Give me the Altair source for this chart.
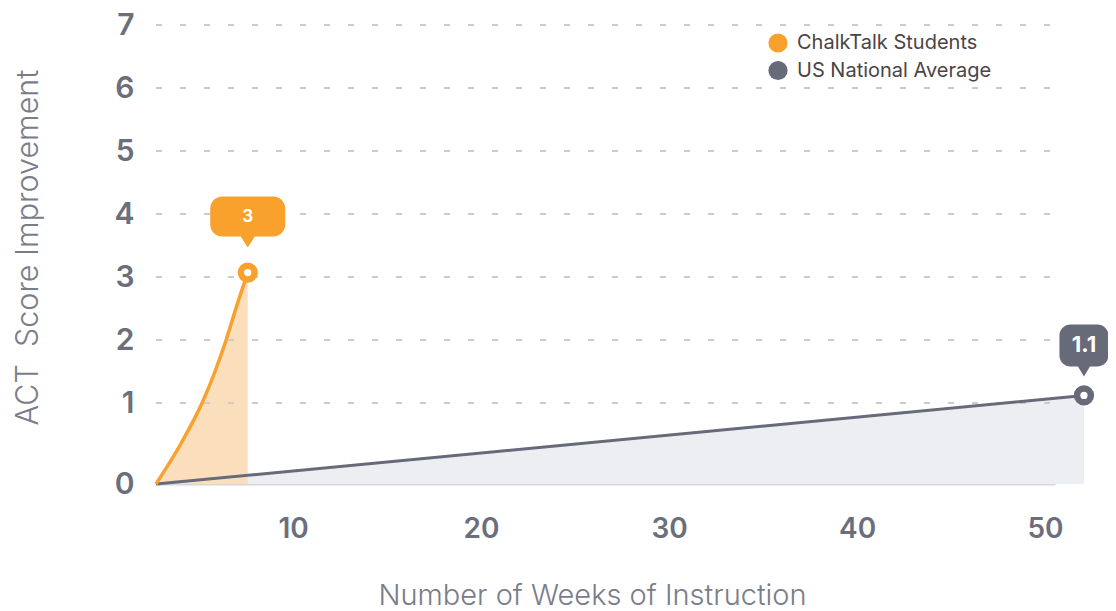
import altair as alt
import pandas as pd

# ---------------- data ----------------
series = ["ChalkTalk Students", "US National Average"]
colors = ["#F8A12C", "#666A79"]
tints = ["#FBDFBC", "#EDEEF1"]

chalk_weeks = [2.71, 4.04, 5.16, 5.85, 6.44, 6.97, 7.59]
chalk_score = [0.0, 0.50, 1.00, 1.50, 2.00, 2.51, 3.07]

us_weeks = [2.71, 52.07]
us_score = [0.0, 1.12]

callout_labels = ["3", "1.1"]

y_ticks = [0, 1, 2, 3, 4, 5, 6, 7]
x_ticks = [10, 20, 30, 40, 50]

# ---------------- frames ----------------
chalk_df = pd.DataFrame({"weeks": chalk_weeks, "score": chalk_score, "series": series[0]})
us_df = pd.DataFrame({"weeks": us_weeks, "score": us_score, "series": series[1]})
frames = [chalk_df, us_df]
peaks_df = pd.DataFrame({
    "series": series,
    "weeks": [chalk_weeks[-1], us_weeks[-1]],
    "score": [chalk_score[-1], us_score[-1]],
    "label": callout_labels,
})
grid_df = pd.DataFrame({"score": y_ticks[1:]})

W, H = 899, 459
FONT = "Inter"

x_scale = alt.Scale(domain=[2.71, 50.53], nice=False, zero=False)
y_scale = alt.Scale(domain=[0, 1, 7], range=[H, H - 81, 0], nice=False, zero=False)

x_enc = alt.X("weeks:Q", scale=x_scale, axis=alt.Axis(
    values=x_ticks, format="d", title="Number of Weeks of Instruction", grid=False,
    ticks=False, tickSize=0, domain=True, domainColor="#D6D7DB", domainWidth=2,
    labelFont=FONT, labelFontSize=28, labelFontWeight=600, labelColor="#6B6E7B",
    labelPadding=31, labelBaseline="top",
    titleFont=FONT, titleFontSize=29, titleFontWeight=300, titleColor="#7A7D89",
    titleX=436, titleY=120, titleAlign="center", titleBaseline="alphabetic"))
y_enc = alt.Y("score:Q", scale=y_scale, axis=alt.Axis(
    values=y_ticks, format="d", title="ACT\u00a0 Score Improvement", grid=False,
    ticks=False, tickSize=0, domain=False,
    labelFont=FONT, labelFontSize=30, labelFontWeight=600, labelColor="#6B6E7B",
    labelPadding=22, labelBaseline="middle",
    titleFont=FONT, titleFontSize=30.5, titleFontWeight=300, titleColor="#7A7D89",
    titleAngle=270, titleX=-119, titleY=222, titleAlign="center", titleBaseline="alphabetic"))


def bubble_path(x0, x1, y0, y1, r, tip, hw):
    return (f"M{x0 + r},{y0} H{x1 - r} A{r},{r} 0 0 1 {x1},{y0 + r} V{y1 - r} "
            f"A{r},{r} 0 0 1 {x1 - r},{y1} H{hw} L0,{tip} L{-hw},{y1} H{x0 + r} "
            f"A{r},{r} 0 0 1 {x0},{y1 - r} V{y0 + r} A{r},{r} 0 0 1 {x0 + r},{y0} Z")


bubbles = [
    dict(path=bubble_path(-37.5, 37.5, -76, -36, 12, -25, 7), dy=-56, fs=17),
    dict(path=bubble_path(-24.5, 24.5, -71, -29, 11, -19, 6), dy=-50, fs=22),
]

layers = []
# areas (US first, then ChalkTalk)
for i in [1, 0]:
    layers.append(alt.Chart(frames[i]).mark_area(
        color=tints[i], opacity=1, interpolate="monotone").encode(
        x=x_enc, y=y_enc))

# dashed grid lines
layers.append(alt.Chart(grid_df).mark_rule(
    color="#C9CBD1", strokeWidth=2, strokeDash=[6, 18]).encode(
    y=alt.Y("score:Q", scale=y_scale), x=alt.value(0), x2=alt.value(W)))

# lines
widths = [3.5, 3]
for i in [1, 0]:
    layers.append(alt.Chart(frames[i]).mark_line(
        color=colors[i], strokeWidth=widths[i], interpolate="monotone").encode(
        x="weeks:Q", y="score:Q"))

# invisible layer carrying the legend
layers.append(alt.Chart(peaks_df).mark_circle(opacity=0).encode(
    x="weeks:Q", y="score:Q",
    color=alt.Color("series:N", scale=alt.Scale(domain=series, range=colors),
                    legend=alt.Legend(
                        title=None, orient="none", legendX=612, legendY=8,
                        symbolType="circle", symbolSize=368, symbolOpacity=1,
                        symbolStrokeWidth=0, labelFont=FONT, labelFontSize=20,
                        labelColor="#4B4447", labelOffset=9, rowPadding=7.5,
                        labelLimit=0, padding=0))))

for i in range(2):
    sub = alt.Chart(peaks_df).transform_filter(alt.datum.series == series[i])
    # end points
    layers.append(sub.mark_point(
        shape="circle", filled=True, fill="white", stroke=colors[i],
        strokeWidth=6.5, size=190, opacity=1).encode(x="weeks:Q", y="score:Q"))
    # callout bubbles
    layers.append(sub.mark_point(
        shape=bubbles[i]["path"], filled=True, color=colors[i], size=4,
        opacity=1, strokeWidth=0).encode(x="weeks:Q", y="score:Q"))
    layers.append(sub.mark_text(
        font=FONT, fontSize=bubbles[i]["fs"], fontWeight=700, color="white",
        dy=bubbles[i]["dy"], baseline="middle", align="center").encode(
        x="weeks:Q", y="score:Q", text="label:N"))

chart = alt.layer(*layers).properties(
    width=W, height=H,
    background="white",
    autosize=alt.AutoSizeParams(type="none"),
    padding={"left": 148, "top": 17, "right": 53, "bottom": 127},
).configure_view(stroke=None)

chart.save("out.html", embed_options={"renderer": "svg", "actions": False})
